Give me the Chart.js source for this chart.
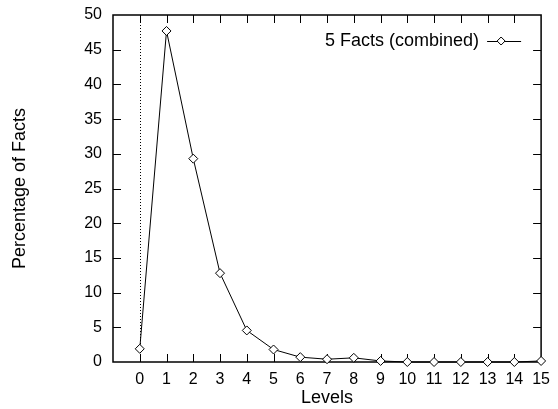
<!DOCTYPE html>
<html>
<head>
<meta charset="utf-8">
<script src="https://cdn.jsdelivr.net/npm/chart.js@4/dist/chart.umd.min.js"></script>
<style>
  html, body { margin: 0; padding: 0; background: #fff; }
  canvas { display: block; }
</style>
</head>
<body>
<canvas id="niveles" width="558" height="409"></canvas>
<script>
// levels (x) and share of facts at each level, in percent
const levels = [0, 1, 2, 3, 4, 5, 6, 7, 8, 9, 10, 11, 12, 13, 14, 15];
const percentFacts = [1.9, 47.7, 29.3, 12.8, 4.55, 1.8, 0.7, 0.4, 0.6, 0.15, 0, 0, 0, 0, 0, 0.15];
const seriesName = '5 Facts (combined)';
const xRange = [-1, 15];
const yRange = [0, 50];

const FONT = 'Liberation Sans, Arial, Helvetica, sans-serif';
const ctx = document.getElementById('niveles').getContext('2d');

// border box with inward tick marks on all four sides (gnuplot look)
const marco = {
    id: 'marco',
    beforeDatasetsDraw(chart) {
        const { ctx, chartArea: a, scales: { x, y } } = chart;
        const tl = 8;
        ctx.save();
        ctx.strokeStyle = '#000';

        // dotted zero axis
        ctx.lineWidth = 1;
        ctx.setLineDash([1, 2]);
        const x0 = Math.round(x.getPixelForValue(0)) + 0.5;
        ctx.beginPath();
        ctx.moveTo(x0, a.bottom);
        ctx.lineTo(x0, a.top);
        ctx.stroke();
        ctx.setLineDash([]);

        ctx.lineWidth = 1;
        ctx.beginPath();
        x.ticks.forEach(t => {
            if (t.value <= xRange[0] || t.value >= xRange[1]) return;
            const px = Math.round(x.getPixelForValue(t.value)) + 0.5;
            ctx.moveTo(px, a.bottom);
            ctx.lineTo(px, a.bottom - tl);
            ctx.moveTo(px, a.top);
            ctx.lineTo(px, a.top + tl);
        });
        y.ticks.forEach(t => {
            if (t.value <= yRange[0] || t.value >= yRange[1]) return;
            const py = Math.round(y.getPixelForValue(t.value)) + 0.5;
            ctx.moveTo(a.left, py);
            ctx.lineTo(a.left + tl, py);
            ctx.moveTo(a.right, py);
            ctx.lineTo(a.right - tl, py);
        });
        ctx.stroke();

        ctx.lineWidth = 1.5;
        ctx.strokeRect(a.left, a.top, a.right - a.left, a.bottom - a.top);
        ctx.restore();
    }
};

// key inside the plot, top right: text then line sample with marker
const leyenda = {
    id: 'leyenda',
    afterDraw(chart) {
        const { ctx, chartArea: a } = chart;
        const ds = chart.data.datasets[0];
        const yk = a.top + 26;
        const x1 = a.right - 20, x0 = x1 - 34;
        ctx.save();
        ctx.font = '18px ' + FONT;
        ctx.fillStyle = '#000';
        ctx.textAlign = 'right';
        ctx.textBaseline = 'middle';
        ctx.fillText(ds.label, x0 - 8, yk);
        ctx.strokeStyle = ds.borderColor;
        ctx.lineWidth = ds.borderWidth;
        ctx.beginPath();
        ctx.moveTo(x0, yk + 0.5);
        ctx.lineTo(x1, yk + 0.5);
        ctx.stroke();
        const xm = (x0 + x1) / 2 - 3, r = 4;
        ctx.fillStyle = '#fff';
        ctx.beginPath();
        ctx.moveTo(xm, yk - r);
        ctx.lineTo(xm + r, yk);
        ctx.lineTo(xm, yk + r);
        ctx.lineTo(xm - r, yk);
        ctx.closePath();
        ctx.fill();
        ctx.stroke();
        ctx.restore();
    }
};

new Chart(ctx, {
    type: 'line',
    data: {
        datasets: [{
            label: seriesName,
            data: levels.map((l, i) => ({ x: l, y: percentFacts[i] })),
            borderColor: '#000',
            borderWidth: 1,
            tension: 0,
            pointStyle: 'rectRot',
            pointRadius: 4.5,
            pointBorderWidth: 1,
            pointBorderColor: '#000',
            pointBackgroundColor: '#fff',
            clip: false
        }]
    },
    options: {
        responsive: false,
        animation: false,
        devicePixelRatio: 1,
        layout: { padding: { top: 15, right: 11, left: 0, bottom: 0 } },
        plugins: {
            legend: { display: false },
            tooltip: { enabled: false }
        },
        scales: {
            x: {
                type: 'linear',
                min: xRange[0],
                max: xRange[1],
                grid: { display: false, drawTicks: false },
                border: { display: false },
                ticks: {
                    stepSize: 1,
                    autoSkip: false,
                    maxRotation: 0,
                    padding: 8,
                    color: '#000',
                    font: { family: FONT, size: 16 },
                    callback: v => (v < 0 ? '' : String(v))
                },
                title: {
                    display: true,
                    text: 'Levels',
                    color: '#000',
                    font: { family: FONT, size: 18 },
                    padding: { top: 0, bottom: 0 }
                },
                afterFit(s) { s.height = 47; }
            },
            y: {
                min: yRange[0],
                max: yRange[1],
                grid: { display: false, drawTicks: false },
                border: { display: false },
                ticks: {
                    stepSize: 5,
                    padding: 11,
                    color: '#000',
                    font: { family: FONT, size: 16 }
                },
                title: {
                    display: true,
                    text: 'Percentage of Facts',
                    color: '#000',
                    font: { family: FONT, size: 18 },
                    padding: { top: 9, bottom: 0 }
                },
                afterFit(s) {
                    s.width = 113;
                    s.paddingTop = 0;
                    s.paddingBottom = 0;
                }
            }
        }
    },
    plugins: [marco, leyenda]
});
</script>
</body>
</html>
